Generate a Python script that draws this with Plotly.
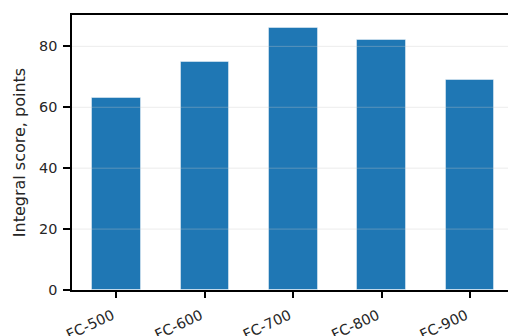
import plotly.graph_objects as go

categories = ["FC-500", "FC-600", "FC-700", "FC-800", "FC-900"]
scores = [63, 75, 86, 82, 69]
y_ticks = [0, 20, 40, 60, 80]

font_family = "DejaVu Sans"
text_color = "#262626"
tick_size = 14.4
label_size = 16

fig = go.Figure()
fig.add_trace(go.Bar(
    x=list(range(len(categories))),
    y=scores,
    width=0.55,
    marker=dict(color="#1f77b4", line=dict(color="rgba(255,255,255,0.45)", width=1)),
))

# grid lines drawn above bars (as in reference)
for t in y_ticks[1:]:
    fig.add_shape(type="line", xref="paper", yref="y", x0=0, x1=1, y0=t, y1=t,
                  line=dict(color="rgba(200,200,200,0.35)", width=1), layer="above")

ymax = max(scores) * 1.05
fig.update_layout(
    width=508, height=336,
    margin=dict(l=72, r=0, t=15, b=46, autoexpand=False),
    paper_bgcolor="white", plot_bgcolor="white",
    showlegend=False,
    font=dict(family=font_family, size=tick_size, color=text_color),
    bargap=0,
)
fig.update_xaxes(
    range=[-0.5025, 4.43],
    tickmode="array", tickvals=list(range(len(categories))), ticktext=categories,
    tickangle=-25,
    ticks="outside", ticklen=6, tickwidth=1.5, tickcolor="black",
    showline=True, linecolor="black", linewidth=1.5, mirror=True,
    showgrid=False, zeroline=False, automargin=False,
    ticklabelstandoff=4, ticklabelshift=-4,
    tickfont=dict(size=tick_size, color=text_color),
)
fig.update_yaxes(
    range=[0, ymax],
    tickmode="array", tickvals=y_ticks,
    ticks="outside", ticklen=7, tickwidth=1.5, tickcolor="black",
    showline=True, linecolor="black", linewidth=1.5, mirror=False,
    showgrid=False, zeroline=False, automargin=False,
    ticklabelstandoff=3,
    tickfont=dict(size=tick_size, color=text_color),
    title=dict(text="Integral score, points", font=dict(size=label_size, color=text_color), standoff=9),
)

fig.write_html("out.html", config={"displayModeBar": False},
               post_script="document.body.style.margin='0';document.body.style.overflow='hidden';")
